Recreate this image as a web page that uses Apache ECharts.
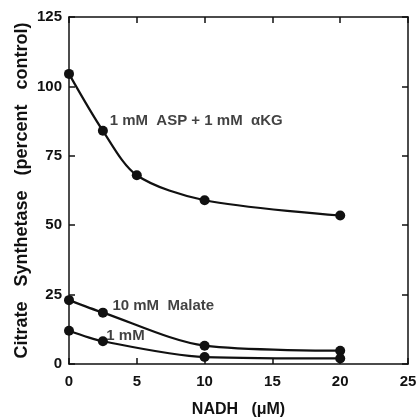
<!DOCTYPE html>
<html>
<head>
<meta charset="utf-8">
<script src="https://cdn.jsdelivr.net/npm/echarts@6/dist/echarts.min.js"></script>
<style>
  html, body { margin: 0; padding: 0; background: #fff; }
  #chart { width: 419px; height: 419px; }
</style>
</head>
<body>
<div id="chart"></div>
<script>
// NADH concentration (µM)
const nadhAsp = [0, 2.5, 5, 10, 20]
const nadhMal = [0, 2.5, 10, 20]

// activity, percent of control
const aspAkg = [104.5, 84, 68, 59, 53.5]
const malate10 = [23, 18.5, 6.6, 4.8]
const malate1 = [12, 8.2, 2.5, 2]

const xTicks = [0, 5, 10, 15, 20, 25]
const yTicks = [0, 25, 50, 75, 100, 125]

const ink = '#111'
const font = 'Liberation Sans'

const pairs = (xs, ys) => xs.map((x, i) => [x, ys[i]])

// text annotations, placed in data units
const notes = [
  { text: '1 mM  ASP + 1 mM  αKG', at: [3.0, 87.5] },
  { text: '10 mM  Malate', at: [3.2, 21] },
  { text: '1 mM', at: [2.75, 10] }
]

const chart = echarts.init(document.getElementById('chart'), null, { renderer: 'canvas' })

const frameAxis = {
  min: 0,
  axisLine: { show: true, onZero: false, lineStyle: { color: ink, width: 1.5 } },
  axisTick: { show: true, inside: true, length: 6, lineStyle: { color: ink, width: 1.5 } },
  splitLine: { show: false }
}

const lineSeries = (name, data) => ({
  name,
  type: 'line',
  data,
  smooth: 0.3,
  symbol: 'circle',
  symbolSize: 10,
  itemStyle: { color: ink },
  lineStyle: { color: ink, width: 2.2 },
  z: 3
})

chart.setOption({
  backgroundColor: '#fff',
  animation: false,
  grid: { left: 69, right: 11, top: 17, bottom: 55, outerBoundsMode: 'none' },
  xAxis: [
    {
      ...frameAxis,
      type: 'value',
      max: 25,
      interval: 5,
      position: 'bottom',
      name: 'NADH   (μM)',
      nameLocation: 'middle',
      nameGap: 38,
      nameTextStyle: { color: ink, fontFamily: font, fontWeight: 'bold', fontSize: 16 },
      axisLabel: {
        color: ink, fontFamily: font, fontWeight: 'bold', fontSize: 15, margin: 10,
        formatter: v => xTicks.includes(v) ? String(v) : ''
      }
    },
    {
      ...frameAxis,
      type: 'value',
      max: 25,
      interval: 5,
      position: 'top',
      axisLabel: { show: false }
    }
  ],
  yAxis: [
    {
      ...frameAxis,
      type: 'value',
      max: 125,
      interval: 25,
      position: 'left',
      name: 'Citrate   Synthetase   (percent   control)',
      nameLocation: 'middle',
      nameGap: 38,
      nameMoveOverlap: false,
      nameTextStyle: { color: ink, fontFamily: font, fontWeight: 'bold', fontSize: 18 },
      axisLabel: {
        color: ink, fontFamily: font, fontWeight: 'bold', fontSize: 15, margin: 7,
        formatter: v => yTicks.includes(v) ? String(v) : ''
      }
    },
    {
      ...frameAxis,
      type: 'value',
      max: 125,
      interval: 25,
      position: 'right',
      axisLabel: { show: false }
    }
  ],
  series: [
    lineSeries('1 mM ASP + 1 mM αKG', pairs(nadhAsp, aspAkg)),
    lineSeries('10 mM Malate', pairs(nadhMal, malate10)),
    lineSeries('1 mM Malate', pairs(nadhMal, malate1)),
    {
      type: 'scatter',
      data: notes.map(n => ({ value: n.at, name: n.text })),
      symbolSize: 0,
      silent: true,
      label: {
        show: true,
        position: 'right',
        distance: 0,
        formatter: p => p.name,
        color: ink,
        fontFamily: font,
        fontWeight: 'bold',
        fontSize: 15
      }
    }
  ]
})
</script>
</body>
</html>
